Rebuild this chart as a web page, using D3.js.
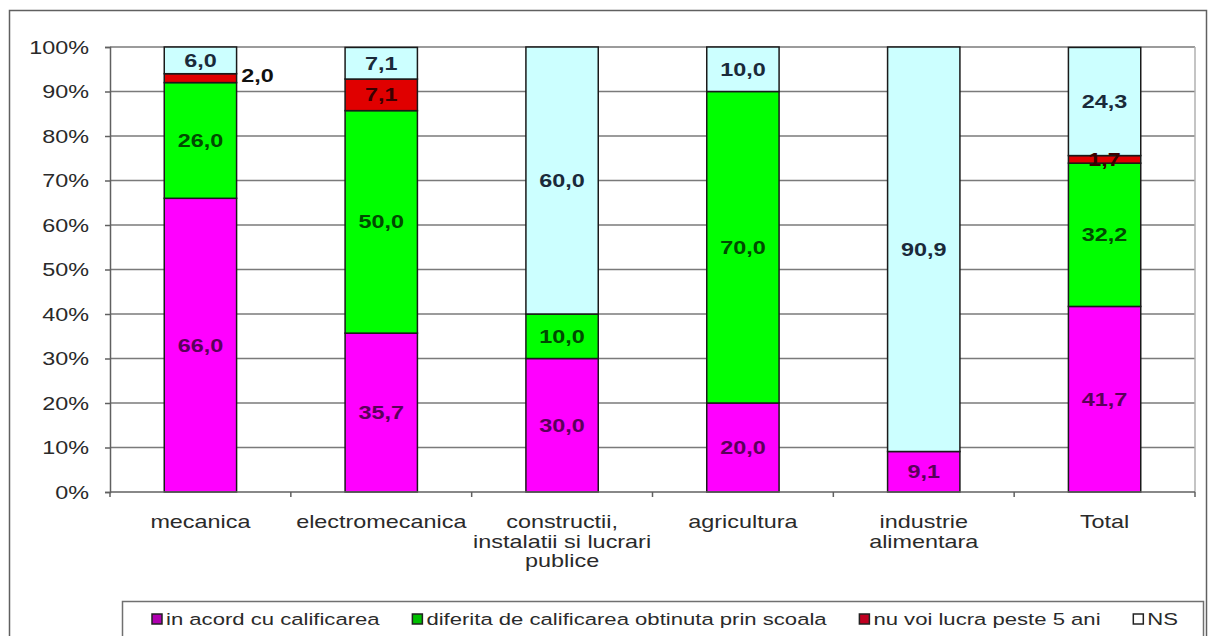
<!DOCTYPE html>
<html><head><meta charset="utf-8">
<script src="https://cdn.jsdelivr.net/npm/d3@7"></script>
<style>body{margin:0;background:#fff}svg{display:block}text{font-family:Arial,"Liberation Sans",sans-serif}</style>
</head><body><svg id="c" width="1208" height="636"></svg>
<script>
const categories = [["mecanica"],["electromecanica"],["constructii,","instalatii si lucrari","publice"],["agricultura"],["industrie","alimentara"],["Total"]];
const seriesNames = ["in acord cu calificarea","diferita de calificarea obtinuta prin scoala","nu voi lucra peste 5 ani","NS"];
const inAcord = [66.0,35.7,30.0,20.0,9.1,41.7];
const diferita = [26.0,50.0,10.0,70.0,0,32.2];
const nuVoi = [2.0,7.1,0,0,0,1.7];
const ns = [6.0,7.1,60.0,10.0,90.9,24.3];
const yTicks = [0,10,20,30,40,50,60,70,80,90,100];

const colors = ["#ff00ff","#00ff00","#e00000","#ccffff"];
const labelColors = ["#5a005a","#004a00","#3a0000","#1a2a3a"];
const legendColors = ["#b000b0","#00c000","#c00020","#ffffff"];
const SX = 1.3, FS = 18;

const svg = d3.select("#c");
function stext(g, x, y, str, opts={}) {
  return g.append("text").attr("transform",`translate(${x},${y}) scale(${SX},1)`)
    .attr("text-anchor",opts.anchor||"middle").attr("font-size",opts.size||FS)
    .attr("font-weight",opts.weight||"normal").attr("fill",opts.fill||"#2a2a2a").text(str);
}

svg.append("rect").attr("x",9.5).attr("y",10.5).attr("width",1197).attr("height",640).attr("fill","#fff").attr("stroke","#606060").attr("stroke-width",1.5);

const m = {l:110,r:1195,t:47,b:492};
const x = d3.scaleBand().domain(d3.range(categories.length)).range([m.l,m.r]).paddingInner(0.6).paddingOuter(0.3);
const y = d3.scaleLinear().domain([0,100]).range([m.b,m.t]);

svg.append("g").selectAll("line").data(yTicks.slice(1)).join("line")
  .attr("x1",m.l).attr("x2",m.r).attr("y1",d=>y(d)).attr("y2",d=>y(d)).attr("stroke","#7a7a7a").attr("stroke-width",1.5);
svg.append("line").attr("x1",m.r).attr("x2",m.r).attr("y1",m.t).attr("y2",m.b).attr("stroke","#b0b0b0").attr("stroke-width",1.5);

const ya = svg.append("g").attr("transform",`translate(${m.l},0)`)
  .call(d3.axisLeft(y).tickValues(yTicks).tickFormat("").tickSize(5));
ya.select(".domain").attr("stroke","#606060").attr("stroke-width",1.5);
ya.selectAll(".tick line").attr("stroke","#606060").attr("stroke-width",1.5);
const yl = svg.append("g");
yTicks.forEach(t=>stext(yl, 89, y(t)+6.5, t+"%", {anchor:"end"}));

const data = categories.map((c,i)=>({i,vals:[inAcord[i],diferita[i],nuVoi[i],ns[i]]}));
const stackRows = data.map(d=>{let acc=0;return d.vals.map((v,k)=>{const r={i:d.i,k,v,y0:acc,y1:acc+v};acc+=v;return r;});});
const segs = stackRows.flat().filter(s=>s.v>0);
svg.append("g").selectAll("rect").data(segs).join("rect")
  .attr("x",s=>x(s.i)).attr("width",x.bandwidth())
  .attr("y",s=>y(Math.min(s.y1,100))).attr("height",s=>y(s.y0)-y(Math.min(s.y1,100)))
  .attr("fill",s=>colors[s.k]).attr("stroke","#1a1a1a").attr("stroke-width",1.5);

svg.append("line").attr("x1",m.l).attr("x2",m.r).attr("y1",m.b).attr("y2",m.b).attr("stroke","#606060").attr("stroke-width",1.5);
svg.append("g").selectAll("line").data(d3.range(categories.length+1)).join("line")
  .attr("x1",d=>m.l+d*(m.r-m.l)/categories.length).attr("x2",d=>m.l+d*(m.r-m.l)/categories.length)
  .attr("y1",m.b).attr("y2",m.b+5).attr("stroke","#606060").attr("stroke-width",1.5);
const cg = svg.append("g");
categories.forEach((lines,i)=>lines.forEach((ln,j)=>stext(cg, x(i)+x.bandwidth()/2, 528+j*19.5, ln)));

const fmt = v=>v.toFixed(1).replace(".",",");
const vg = svg.append("g");
segs.forEach(s=>{
  const mid=(y(s.y0)+y(Math.min(s.y1,100)))/2;
  if (s.i===0 && s.k===2) stext(vg, x(s.i)+x.bandwidth()+21, mid+3.5, fmt(s.v), {weight:"bold", fill:"#111"});
  else stext(vg, x(s.i)+x.bandwidth()/2, mid+6.5, fmt(s.v), {weight:"bold", fill:labelColors[s.k]});
});

const lg = svg.append("g");
lg.append("rect").attr("x",122.5).attr("y",601.5).attr("width",1081).attr("height",40).attr("fill","#fff").attr("stroke","#707070").attr("stroke-width",1.5);
const items = seriesNames.map((nm,i)=>{
  const g = lg.append("g");
  g.append("rect").attr("x",0).attr("y",614).attr("width",10).attr("height",10).attr("fill",legendColors[i]).attr("stroke","#222").attr("stroke-width",1.5);
  const t = stext(g, 14, 625, nm, {anchor:"start", size:17});
  const w = 14 + t.node().getComputedTextLength()*SX;
  return {g,w};
});
const startX = 152, endX = 1178;
const gap = (endX - startX - d3.sum(items,d=>d.w))/(items.length-1);
let cx = startX;
items.forEach(it=>{ it.g.attr("transform",`translate(${cx},0)`); cx += it.w + gap; });
</script></body></html>
